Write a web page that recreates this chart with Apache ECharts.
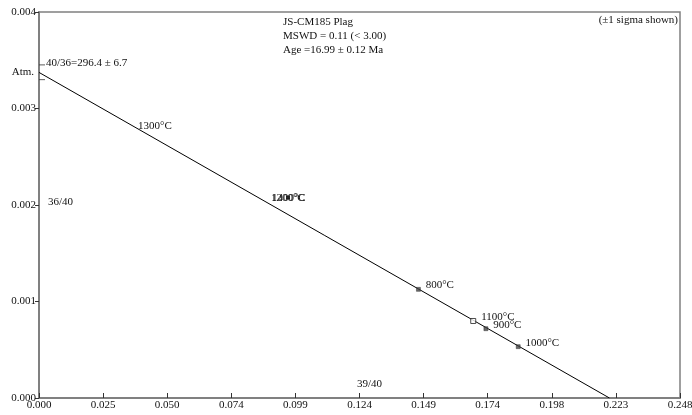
<!DOCTYPE html>
<html><head><meta charset="utf-8">
<script src="https://cdn.jsdelivr.net/npm/echarts@6/dist/echarts.min.js"></script>
<style>html,body{margin:0;padding:0;background:#fff}#c{width:692px;height:415px}</style>
</head><body><div id="c"></div>
<script>
// Isochron line (36/40 intercept -> 39/40 intercept)
const lineX = [0, 0.2207];
const lineY = [0.003374, 0];
// Steps
const stepLabels = ['800°C', '1100°C', '900°C', '1000°C'];
const stepX = [0.1468, 0.1680, 0.1729, 0.1854];
const stepY = [0.001126, 0.000798, 0.000718, 0.000532];
// Steps without visible error boxes (labels only)
const hiddenLabels = ['1300°C', '1200°C', '1400°C'];
const hiddenX = [0.0364, 0.0878, 0.0882];
const hiddenY = [0.00282, 0.00207, 0.00207];
// Intercept error (1/(296.4±6.7))
const interceptErrY = [0.003452, 0.003299];
const xTicks = ['0.000','0.025','0.050','0.074','0.099','0.124','0.149','0.174','0.198','0.223','0.248'];
const yTicks = ['0.000','0.001','0.002','0.003','0.004'];
const infoLines = ['JS-CM185 Plag', 'MSWD = 0.11 (< 3.00)', 'Age =16.99 ± 0.12 Ma'];

const FONT = '"Liberation Serif", "DejaVu Serif", serif';
const TXT = '#111';
const chart = echarts.init(document.getElementById('c'));
const X_INT = 0.0248;
const lbl = (extra) => Object.assign({ show: true, fontFamily: FONT, fontSize: 11, color: TXT, textBorderWidth: 0, opacity: 1 }, extra);
chart.setOption({
  animation: false,
  backgroundColor: '#fff',
  textStyle: { fontFamily: FONT },
  grid: { left: 39, right: 12, top: 12, bottom: 17, show: true, borderColor: '#808080', borderWidth: 1.5, containLabel: false, outerBoundsMode: 'none' },
  xAxis: {
    type: 'value', min: 0, max: 0.248, interval: X_INT,
    axisLine: { show: true, lineStyle: { color: '#808080', width: 2 } },
    axisTick: { show: true, inside: true, length: 5, lineStyle: { color: '#333' } },
    axisLabel: { margin: 2, fontFamily: FONT, fontSize: 11, color: TXT,
      formatter: (v) => { const i = Math.round(v / X_INT); return xTicks[i] !== undefined ? xTicks[i] : ''; } },
    splitLine: { show: false }
  },
  yAxis: {
    type: 'value', min: 0, max: 0.004, interval: 0.001,
    axisLine: { show: true, lineStyle: { color: '#808080', width: 2 } },
    axisTick: { show: true, inside: false, length: 4, lineStyle: { color: '#333' } },
    axisLabel: { margin: 3, fontFamily: FONT, fontSize: 11, color: TXT,
      formatter: (v) => { const i = Math.round(v / 0.001); return yTicks[i] !== undefined ? yTicks[i] : ''; } },
    splitLine: { show: false }
  },
  graphic: [
    { type: 'text', left: 283, top: 15, style: { text: infoLines.join('\n'), font: '11px ' + FONT, fill: TXT, lineHeight: 14 } },
    { type: 'text', right: 14, top: 15, style: { text: '(±1 sigma shown)', font: '11px ' + FONT, fill: TXT } },
    { type: 'text', left: 48, top: 197, style: { text: '36/40', font: '11px ' + FONT, fill: TXT } },
    { type: 'text', left: 357, top: 379, style: { text: '39/40', font: '11px ' + FONT, fill: TXT } }
  ],
  series: [
    {
      type: 'line', data: lineX.map((x, i) => [x, lineY[i]]), symbol: 'none',
      lineStyle: { color: '#000', width: 1 }, z: 2
    },
    {
      type: 'scatter', data: [[lineX[0], lineY[0]]], symbolSize: 0,
      label: lbl({ position: 'left', distance: 5, formatter: 'Atm.' }), z: 3
    },
    {
      type: 'scatter', data: [[lineX[0], interceptErrY[0]]], symbol: 'rect', symbolSize: [6, 1], symbolOffset: [3, 0],
      itemStyle: { color: '#333' },
      label: lbl({ position: 'right', distance: 1, offset: [0, -2], formatter: '40/36=296.4 ± 6.7' }), z: 3
    },
    {
      type: 'scatter', data: [[lineX[0], interceptErrY[1]]], symbol: 'rect', symbolSize: [6, 1], symbolOffset: [3, 0],
      itemStyle: { color: '#333' }, z: 3
    },
    {
      type: 'scatter',
      data: stepX.map((x, i) => ({
        value: [x, stepY[i]], name: stepLabels[i],
        symbolSize: i === 1 ? 5 : 4,
        itemStyle: i === 1 ? { color: '#fff', borderColor: '#222', borderWidth: 1 } : { color: '#444', borderColor: '#222', borderWidth: 0.5 }
      })),
      symbol: 'rect',
      label: lbl({ position: 'right', distance: 5, offset: [0, -4], formatter: (p) => p.name }),
      z: 4
    },
    {
      type: 'scatter',
      data: hiddenX.map((x, i) => ({ value: [x, hiddenY[i]], name: hiddenLabels[i] })),
      symbolSize: 0,
      label: lbl({ position: 'right', distance: 5, offset: [0, -3], formatter: (p) => p.name }),
      labelLayout: { hideOverlap: false },
      z: 4
    }
  ]
});
</script></body></html>
